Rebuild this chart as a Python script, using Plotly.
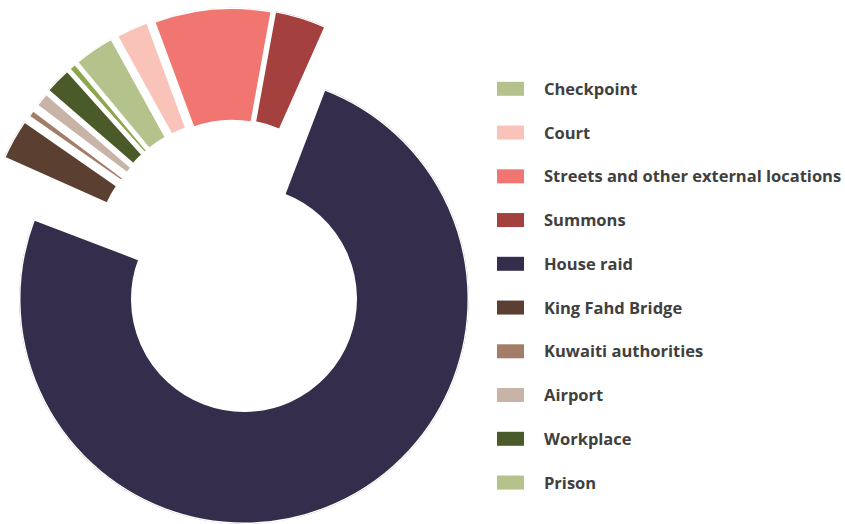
import math
import plotly.graph_objects as go

# ---------------- data ----------------
labels = ["Checkpoint", "Court", "Streets and other external locations", "Summons",
          "House raid", "King Fahd Bridge", "Kuwaiti authorities", "Airport",
          "Workplace", "Prison"]
values = [3.0, 2.4, 8.5, 3.8, 75.0, 3.0, 0.6, 1.1, 2.0, 0.6]  # share of cases, %

# ---------------- style ----------------
slice_colors = ["#b4c28b", "#f9c3ba", "#f17570", "#a4403d", "#352d4c",
                "#5b3f31", "#a47d68", "#c8b4a6", "#4a5a28", "#8ba64b"]
legend_colors = ["#b4c28b", "#f9c3ba", "#f17570", "#a4403d", "#352d4c",
                 "#5b3f31", "#a47d68", "#c8b4a6", "#4a5a28", "#b4c28b"]

W, H = 845, 524
R_OUT, R_IN = 225.0, 111.5          # px
EDGE = 3                            # white separator width
HOUSE_START = 20.9                  # deg clockwise from 12 o'clock
CENTER = (244.0, 299.0)             # donut centre (px)
# exploded slices: offset of each slice centre from the donut centre (px)
explode = {
    "Checkpoint": (-23.6, -63.8),
    "Court": (-18.7, -66.1),
    "Streets and other external locations": (-12.2, -66.3),
    "Summons": (-9.5, -66.8),
    "House raid": (0.0, 0.0),
    "King Fahd Bridge": (-34.7, -49.6),
    "Kuwaiti authorities": (-31.0, -54.0),
    "Airport": (-27.7, -58.3),
    "Workplace": (-26.5, -61.3),
    "Prison": (-25.0, -62.5),
}
EXPLODE_ROT = 3.1


def sector_bbox(s0, s1):
    arc = s1 - s0
    a0 = s0 % 360
    a1 = a0 + arc
    c = lambda a: math.cos(math.radians(a))
    s = lambda a: math.sin(math.radians(a))
    ax0, ay0, ax1, ay1 = c(a0), s(a0), c(a1), s(a1)
    if (a0 <= 90 and a1 >= 90) or (a0 > 90 and a1 >= 450):
        y1 = 1
    elif ay0 <= 0 and ay1 <= 0:
        y1 = 0
    else:
        y1 = max(ay0, ay1)
    if (a0 <= 180 and a1 >= 180) or (a0 > 180 and a1 >= 540):
        x0 = -1
    elif ax0 >= 0 and ax1 >= 0:
        x0 = 0
    else:
        x0 = min(ax0, ax1)
    if (a0 <= 270 and a1 >= 270) or (a0 > 270 and a1 >= 630):
        y0 = -1
    elif ay0 >= 0 and ay1 >= 0:
        y0 = 0
    else:
        y0 = min(ay0, ay1)
    if a1 >= 360:
        x1 = 1
    elif ax0 <= 0 and ax1 <= 0:
        x1 = 0
    else:
        x1 = max(ax0, ax1)
    return x0, y0, x1, y1


total = sum(values)
fig = go.Figure()
start = HOUSE_START - sum(values[:labels.index("House raid")]) / total * 360
layout_polars = {}
acc = start
for i, (lab, val) in enumerate(zip(labels, values)):
    width = val / total * 360
    rot = 0.0 if lab == "House raid" else EXPLODE_ROT
    a_start = acc + rot
    a_end = acc + width + rot
    acc += width
    mid = (a_start + a_end) / 2
    cx = CENTER[0] + explode[lab][0]
    cy = CENTER[1] + explode[lab][1]
    pad = 1.0
    sec = [90 - a_end - pad, 90 - a_start + pad]
    bx0, by0, bx1, by1 = sector_bbox(*sec)
    dx = [(cx + R_OUT * bx0) / W, (cx + R_OUT * bx1) / W]
    dy = [1 - (cy - R_OUT * by0) / H, 1 - (cy - R_OUT * by1) / H]
    dx = [min(max(v, 0), 1) for v in dx]
    dy = [min(max(v, 0), 1) for v in dy]
    key = "polar" if i == 0 else f"polar{i + 1}"
    fig.add_trace(go.Barpolar(
        theta=[mid], width=[width], base=[R_IN], r=[R_OUT - R_IN],
        marker=dict(color=slice_colors[i], line=dict(color="white", width=EDGE)),
        name=lab, subplot=key, showlegend=False, hoverinfo="name"))
    layout_polars[key] = dict(
        domain=dict(x=dx, y=dy), sector=sec, bgcolor="rgba(0,0,0,0)",
        radialaxis=dict(range=[0, R_OUT], visible=False, showgrid=False,
                        showline=False, showticklabels=False, ticks=""),
        angularaxis=dict(rotation=90, direction="clockwise", visible=False,
                         showgrid=False, showline=False, showticklabels=False, ticks=""))

fig.update_layout(**layout_polars)

# legend (swatches + labels)
LEG_X0, LEG_SW_W, LEG_SW_H = 497, 27, 14
LEG_Y0, LEG_DY = 88.8, 43.75
LEG_TX = 542
shapes, annos = [], []
for i, lab in enumerate(labels):
    yc = LEG_Y0 + i * LEG_DY
    shapes.append(dict(type="rect", xref="paper", yref="paper",
                       x0=LEG_X0 / W, x1=(LEG_X0 + LEG_SW_W) / W,
                       y0=1 - (yc + LEG_SW_H / 2) / H, y1=1 - (yc - LEG_SW_H / 2) / H,
                       fillcolor=legend_colors[i], line=dict(width=0)))
    annos.append(dict(x=LEG_TX / W, y=1 - (yc - 0.5) / H, xref="paper", yref="paper",
                      xanchor="left", yanchor="middle", showarrow=False, text=lab,
                      font=dict(family="Open Sans", size=16.5, color="#404040", weight="bold")))

fig.update_layout(width=W, height=H, margin=dict(l=0, r=0, t=0, b=0),
                  paper_bgcolor="white", plot_bgcolor="white",
                  shapes=shapes, annotations=annos, showlegend=False)

fig.write_html("out.html")
